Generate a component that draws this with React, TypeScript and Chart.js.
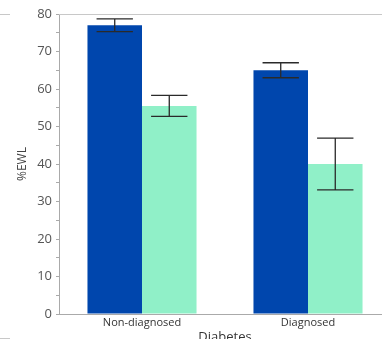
import React, { useEffect, useRef } from "react";
import { Chart, registerables } from "chart.js";

Chart.register(...registerables);

const categories = ["Non-diagnosed", "Diagnosed"];
const seriesA = [77, 65];
const seriesAErr = [1.7, 2.0];
const seriesB = [55.5, 40];
const seriesBErr = [2.8, 6.9];
const yTicks = [0, 10, 20, 30, 40, 50, 60, 70, 80];

const errors: number[][] = [seriesAErr, seriesBErr];

const errorBarPlugin = {
  id: "errorBars",
  afterDatasetsDraw(chart: any) {
    const { ctx } = chart;
    const y = chart.scales.y;
    chart.data.datasets.forEach((ds: any, di: number) => {
      const meta = chart.getDatasetMeta(di);
      meta.data.forEach((el: any, i: number) => {
        const v = ds.data[i];
        const e = errors[di][i];
        const yt = y.getPixelForValue(v + e);
        const yb = y.getPixelForValue(v - e);
        const half = el.width / 3;
        ctx.save();
        ctx.strokeStyle = "#2a2a2a";
        ctx.lineWidth = 1.3;
        ctx.beginPath();
        ctx.moveTo(el.x, yt);
        ctx.lineTo(el.x, yb);
        ctx.moveTo(el.x - half, yt);
        ctx.lineTo(el.x + half, yt);
        ctx.moveTo(el.x - half, yb);
        ctx.lineTo(el.x + half, yb);
        ctx.stroke();
        ctx.restore();
      });
    });
  },
};

const framePlugin = {
  id: "frame",
  afterDraw(chart: any) {
    const { ctx, chartArea } = chart;
    ctx.save();
    ctx.strokeStyle = "#c8c8c8";
    ctx.lineWidth = 1;
    ctx.beginPath();
    ctx.moveTo(chartArea.left, chartArea.top + 0.5);
    ctx.lineTo(chartArea.right, chartArea.top + 0.5);
    ctx.moveTo(0, chartArea.top + 0.5);
    ctx.lineTo(10, chartArea.top + 0.5);
    ctx.moveTo(0, 338.5);
    ctx.lineTo(10, 338.5);
    ctx.stroke();
    ctx.restore();
  },
};

export default function App() {
  const ref = useRef<HTMLCanvasElement>(null);
  useEffect(() => {
    document.body.style.margin = "0";
    document.body.style.overflow = "hidden";
    const chart = new Chart(ref.current!, {
      type: "bar",
      data: {
        labels: categories,
        datasets: [
          { data: seriesA, backgroundColor: "#0046ad", categoryPercentage: 0.657, barPercentage: 1 },
          { data: seriesB, backgroundColor: "#90f0c8", categoryPercentage: 0.657, barPercentage: 1 },
        ],
      },
      options: {
        animation: false,
        responsive: false,
        maintainAspectRatio: false,
        layout: { padding: { top: 14, left: 0, right: 9, bottom: 0 } },
        plugins: { legend: { display: false }, tooltip: { enabled: false } },
        scales: {
          x: {
            grid: { display: false, drawTicks: false },
            border: { color: "#aaaaaa" },
            ticks: { font: { family: "Open Sans", size: 11 }, color: "#333", padding: 2 },
            title: {
              display: true,
              text: "Diabetes",
              font: { family: "Open Sans", size: 13 },
              color: "#333",
              padding: { top: 0, bottom: 0 },
            },
            afterFit(scale: any) {
              scale.height = 31;
            },
          },
          y: {
            min: 0,
            max: 80,
            ticks: {
              stepSize: 5,
              font: { family: "Open Sans", size: 13 },
              color: "#555",
              padding: 4,
              callback: (v: any) => (yTicks.includes(v) ? String(v) : ""),
              autoSkip: false,
            },
            grid: { drawOnChartArea: false, tickLength: 3, color: "#aaaaaa" },
            border: { color: "#aaaaaa" },
            title: {
              display: true,
              text: "%EWL",
              font: { family: "Open Sans", size: 12 },
              color: "#444",
              padding: { top: 15, bottom: 0 },
            },
            afterFit(scale: any) {
              scale.width = 59;
            },
          },
        },
      },
      plugins: [errorBarPlugin, framePlugin],
    });
    return () => chart.destroy();
  }, []);
  return (
    <div style={{ width: 382, height: 339, overflow: "hidden", position: "relative" }}>
      <canvas ref={ref} width={400} height={345} style={{ display: "block" }} />
    </div>
  );
}
